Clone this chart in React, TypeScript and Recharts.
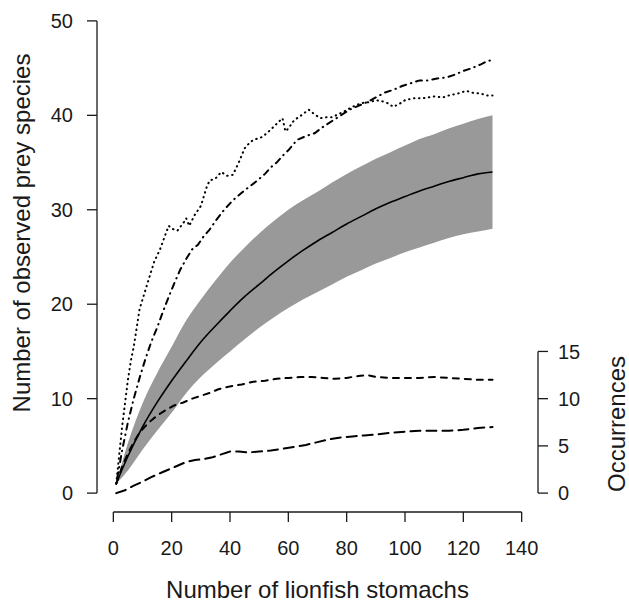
import React from 'react';
import { ComposedChart, Line, Area, XAxis, YAxis, ReferenceLine, Label } from 'recharts';

// Rarefaction curve (mean) and its confidence band
const bandX = [1, 5, 10, 15, 20, 25, 30, 35, 40, 45, 50, 55, 60, 65, 70, 75, 80, 85, 90, 95, 100, 105, 110, 115, 120, 125, 130];
const meanY = [1.0, 3.9, 7.0, 9.6, 11.9, 14.0, 16.0, 17.7, 19.3, 20.8, 22.1, 23.4, 24.6, 25.7, 26.7, 27.6, 28.5, 29.3, 30.1, 30.8, 31.4, 32.0, 32.5, 33.0, 33.4, 33.8, 34.0];
const upperY = [1.0, 5.3, 9.5, 12.7, 15.5, 18.3, 20.5, 22.5, 24.4, 26.0, 27.5, 28.8, 30.0, 31.0, 31.9, 32.9, 33.8, 34.6, 35.4, 36.1, 36.8, 37.5, 38.0, 38.6, 39.1, 39.6, 40.0];
const lowerY = [1.0, 2.4, 4.6, 6.6, 8.5, 10.6, 12.3, 13.7, 15.0, 16.3, 17.5, 18.6, 19.6, 20.5, 21.3, 22.1, 22.9, 23.6, 24.3, 24.9, 25.5, 26.0, 26.5, 27.0, 27.4, 27.7, 28.0];

// Dotted series
const dottedX = [1, 2, 3, 4, 5, 6, 7, 8, 9, 10, 12, 14, 16, 18, 19, 20, 22, 24, 25, 26, 28, 30, 32, 33, 35, 37, 39, 41, 43, 45, 47, 49, 51, 53, 56, 58, 59, 60, 62, 64, 67, 69, 71, 73, 75, 77, 79, 82, 85, 88, 90, 92, 94, 96, 98, 100, 103, 106, 110, 113, 115, 118, 121, 123, 126, 128, 130];
const dottedY = [1, 4, 7, 9.5, 12, 14, 15.5, 17.5, 19.5, 20.5, 22.5, 24.5, 25.8, 27.5, 28.3, 28.0, 27.8, 28.6, 29.1, 28.3, 29.5, 30.4, 32.4, 33.1, 33.3, 34.0, 33.6, 33.7, 35.0, 36.5, 37.2, 37.5, 37.7, 38.2, 39.1, 39.7, 38.3, 38.6, 39.5, 39.9, 40.6, 40.1, 39.7, 39.8, 39.8, 40.1, 40.4, 40.9, 41.3, 41.4, 41.6, 41.5, 41.3, 40.9, 41.2, 41.6, 41.8, 41.8, 42.0, 41.9, 42.1, 42.3, 42.6, 42.4, 42.3, 42.1, 42.1];

// Dash-dot series
const dashDotX = [1, 3, 5, 7, 9, 11, 13, 15, 17, 19, 21, 23, 25, 27, 29, 31, 33, 35, 38, 41, 44, 46, 49, 52, 54, 56, 58, 60, 63, 66, 69, 72, 75, 78, 81, 84, 87, 90, 93, 96, 99, 102, 105, 108, 111, 114, 117, 120, 123, 126, 128, 130];
const dashDotY = [1, 4.5, 7.5, 10, 12.2, 14.2, 16, 17.5, 19.2, 20.8, 22.3, 23.7, 24.8, 25.8, 26.3, 27.2, 27.9, 28.8, 30.0, 31.0, 31.8, 32.3, 33.0, 33.8, 34.5, 35.0, 35.7, 36.3, 37.4, 37.8, 38.1, 38.8, 39.4, 40.0, 40.6, 41.0, 41.4, 41.9, 42.4, 42.7, 43.1, 43.4, 43.7, 43.7, 43.9, 44.0, 44.3, 44.7, 45.0, 45.4, 45.7, 45.9];

// Occurrences: dashed series
const dashedX = [1, 3, 5, 7, 9, 11, 13, 15, 18, 21, 24, 27, 30, 33, 36, 40, 44, 48, 52, 56, 60, 64, 68, 72, 76, 80, 84, 87, 90, 95, 100, 105, 110, 115, 120, 125, 130];
const dashedY = [1, 2.8, 4.2, 5.4, 6.4, 7.1, 7.7, 8.2, 8.8, 9.3, 9.6, 10.0, 10.3, 10.6, 11.0, 11.3, 11.5, 11.8, 11.9, 12.1, 12.2, 12.3, 12.3, 12.2, 12.1, 12.2, 12.4, 12.5, 12.3, 12.2, 12.2, 12.2, 12.3, 12.2, 12.1, 12.0, 12.0];

// Occurrences: long-dashed series
const longDashX = [1, 4, 7, 10, 13, 16, 19, 22, 25, 28, 31, 34, 37, 40, 43, 46, 50, 54, 58, 62, 66, 70, 74, 78, 82, 86, 90, 95, 100, 105, 110, 115, 120, 125, 130];
const longDashY = [0, 0.3, 0.8, 1.2, 1.7, 2.1, 2.5, 2.9, 3.3, 3.5, 3.6, 3.8, 4.1, 4.4, 4.4, 4.3, 4.4, 4.5, 4.7, 4.9, 5.1, 5.4, 5.7, 5.9, 6.0, 6.1, 6.2, 6.4, 6.5, 6.6, 6.6, 6.6, 6.7, 6.9, 7.0];

const xTicks = [0, 20, 40, 60, 80, 100, 120, 140];
const yTicks = [0, 10, 20, 30, 40, 50];
const occTicks = [0, 5, 10, 15];
const xDomain = [-5.6, 145.6];
const yDomain = [-2, 52];

const xLabel = 'Number of lionfish stomachs';
const yLabel = 'Number of observed prey species';
const occLabel = 'Occurrences';

const toPoints = (xs: number[], ys: number[]) => xs.map((x, i) => ({ x, y: ys[i] }));
const bandData = bandX.map((x, i) => ({ x, mean: meanY[i], band: [lowerY[i], upperY[i]] }));
const dottedData = toPoints(dottedX, dottedY);
const dashDotData = toPoints(dashDotX, dashDotY);
const dashedData = toPoints(dashedX, dashedY);
const longDashData = toPoints(longDashX, longDashY);

const INK = '#1a1a1a';
const FONT = '"Liberation Sans", Arial, Helvetica, sans-serif';
const TICK_FS = 20;
const TITLE_FS = 24;

const XTitle = (props: any) => {
  const vb = props.viewBox;
  return (
    <text x={vb.x + vb.width / 2} y={vb.y + vb.height - 4} textAnchor="middle" fontSize={TITLE_FS} fill={INK} fontFamily={FONT}>
      {xLabel}
    </text>
  );
};

const YTitle = () => (
  <text transform="translate(30, 233) rotate(-90)" textAnchor="middle" fontSize={TITLE_FS} fill={INK} fontFamily={FONT}>
    {yLabel}
  </text>
);

const OccTitle = () => (
  <text transform="translate(625, 424) rotate(-90)" textAnchor="middle" fontSize={TITLE_FS} fill={INK} fontFamily={FONT}>
    {occLabel}
  </text>
);

export default function App() {
  return (
    <div style={{ position: 'absolute', left: 0, top: 0, width: 629, height: 602, background: '#fff', fontFamily: FONT }}>
      <ComposedChart width={629} height={602} margin={{ top: 2, right: 0, bottom: 0, left: 0 }}>
        <XAxis
          type="number"
          dataKey="x"
          domain={xDomain}
          ticks={xTicks}
          interval={0}
          allowDataOverflow
          height={90}
          axisLine={false}
          tickSize={10}
          tickMargin={19}
          tickLine={{ stroke: INK, strokeWidth: 1.3 }}
          tick={{ fill: INK, fontSize: TICK_FS, fontFamily: FONT }}
        >
          <Label content={<XTitle />} />
        </XAxis>
        <YAxis
          yAxisId="left"
          type="number"
          domain={yDomain}
          ticks={yTicks}
          interval={0}
          allowDataOverflow
          width={97}
          axisLine={false}
          tickSize={10}
          tickMargin={14}
          tickLine={{ stroke: INK, strokeWidth: 1.3 }}
          tick={{ fill: INK, fontSize: TICK_FS, fontFamily: FONT }}
        >
          <Label content={<YTitle />} />
        </YAxis>
        <YAxis
          yAxisId="right"
          orientation="right"
          type="number"
          domain={yDomain}
          ticks={occTicks}
          interval={0}
          allowDataOverflow
          width={91}
          axisLine={false}
          tickSize={10}
          tickMargin={10}
          tickLine={{ stroke: INK, strokeWidth: 1.3 }}
          tick={{ fill: INK, fontSize: TICK_FS, fontFamily: FONT, textAnchor: 'start' }}
        >
          <Label content={<OccTitle />} />
        </YAxis>

        <ReferenceLine yAxisId="left" ifOverflow="visible" segment={[{ x: 0, y: -2 }, { x: 140, y: -2 }]} stroke={INK} strokeWidth={1.3} />
        <ReferenceLine yAxisId="left" ifOverflow="visible" segment={[{ x: -5.6, y: 0 }, { x: -5.6, y: 50 }]} stroke={INK} strokeWidth={1.3} />
        <ReferenceLine yAxisId="left" ifOverflow="visible" segment={[{ x: 145.6, y: 0 }, { x: 145.6, y: 15 }]} stroke={INK} strokeWidth={1.3} />

        <Area yAxisId="left" data={bandData} dataKey="band" type="monotone" fill="#999999" fillOpacity={1} stroke="none" isAnimationActive={false} />
        <Line yAxisId="left" data={bandData} dataKey="mean" type="monotone" stroke="#000" strokeWidth={1.6} dot={false} isAnimationActive={false} />
        <Line yAxisId="left" data={dottedData} dataKey="y" type="linear" stroke="#000" strokeWidth={2} strokeDasharray="0.5 4.5" strokeLinecap="round" dot={false} isAnimationActive={false} />
        <Line yAxisId="left" data={dashDotData} dataKey="y" type="linear" stroke="#000" strokeWidth={2} strokeDasharray="0.5 5 6 5" strokeLinecap="round" dot={false} isAnimationActive={false} />
        <Line yAxisId="left" data={dashedData} dataKey="y" type="linear" stroke="#000" strokeWidth={2} strokeDasharray="6 6" strokeLinecap="round" dot={false} isAnimationActive={false} />
        <Line yAxisId="left" data={longDashData} dataKey="y" type="linear" stroke="#000" strokeWidth={2} strokeDasharray="10 6" strokeLinecap="round" dot={false} isAnimationActive={false} />
      </ComposedChart>
    </div>
  );
}
